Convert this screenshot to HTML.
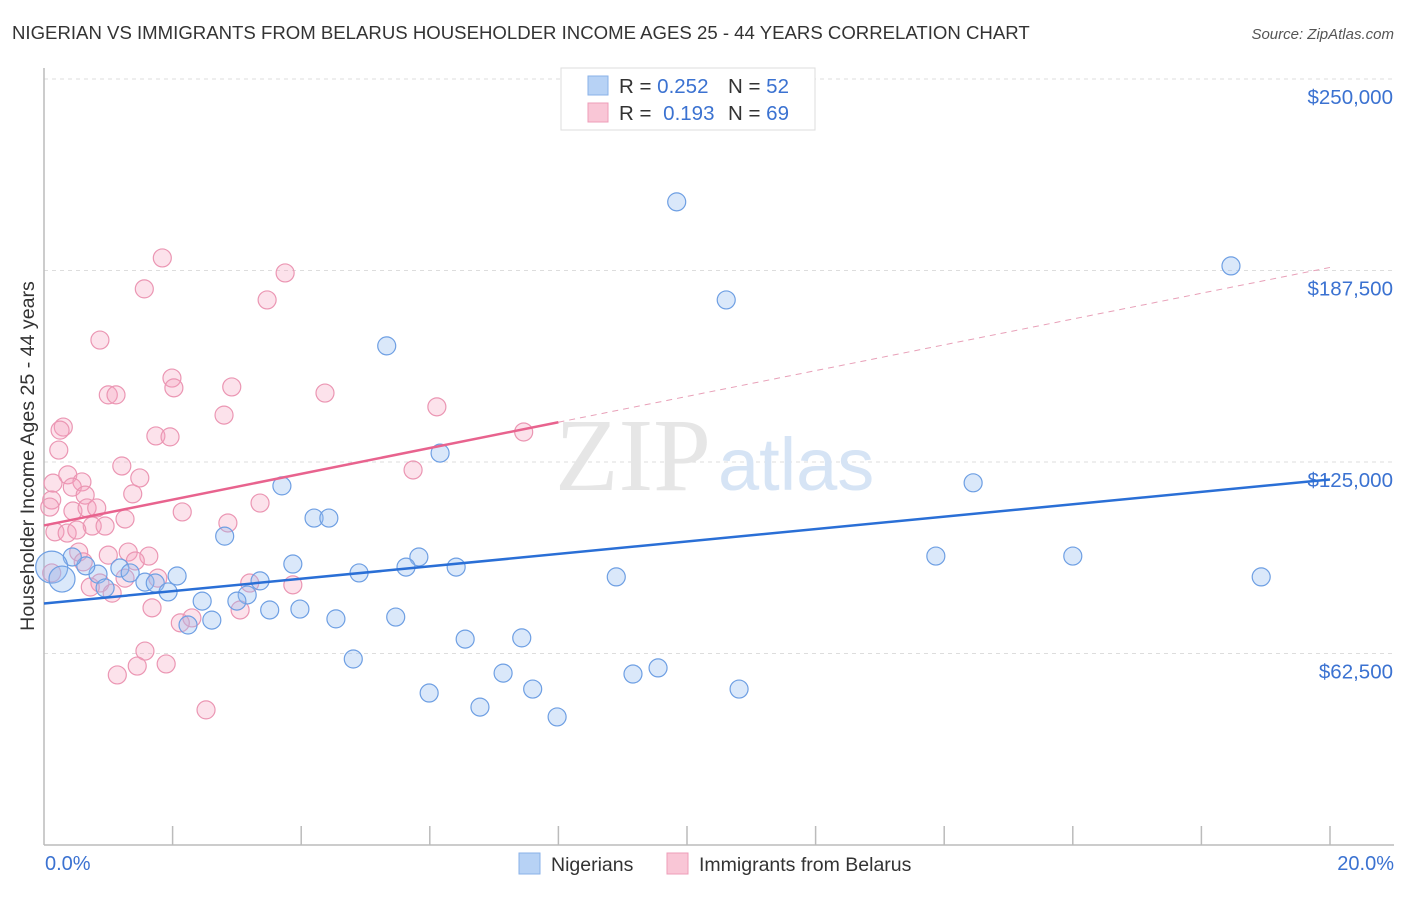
<!DOCTYPE html>
<html><head><meta charset="utf-8"><style>
body{margin:0;background:#fff;font-family:"Liberation Sans",sans-serif}
svg text{font-family:"Liberation Sans",sans-serif}
</style></head><body>
<svg id="c" width="1406" height="892" xmlns="http://www.w3.org/2000/svg">
<text x="12" y="39" font-size="18.6" fill="#333">NIGERIAN VS IMMIGRANTS FROM BELARUS HOUSEHOLDER INCOME AGES 25 - 44 YEARS CORRELATION CHART</text>
<text x="1394" y="39" font-size="15" fill="#555" text-anchor="end" font-style="italic">Source: ZipAtlas.com</text>
<text x="34" y="456" font-size="19.6" fill="#333" text-anchor="middle" transform="rotate(-90 34 456)" dy="0">Householder Income Ages 25 - 44 years</text>
<g id="grid"></g>
<text x="555" y="490" font-size="104" fill="#e6e6e6" style="font-family:'Liberation Serif',serif">ZIP</text>
<text x="718" y="490" font-size="74" fill="#d6e4f5">atlas</text>
<g id="marks"></g>
<g id="lines"></g>
<g>
<rect x="561" y="68" width="254" height="62" fill="#fff" stroke="#ddd"/>
<rect x="588" y="76" width="20" height="19" fill="#b7d2f5" stroke="#8ab2e8"/>
<rect x="588" y="103" width="20" height="19" fill="#f9c6d6" stroke="#ee9db8"/>
<text x="619" y="93" font-size="20.5" fill="#333">R = <tspan fill="#3b72d1">0.252</tspan></text>
<text x="728" y="93" font-size="20.5" fill="#333">N = <tspan fill="#3b72d1">52</tspan></text>
<text x="619" y="120" font-size="20.5" fill="#333">R = <tspan fill="#3b72d1" dx="6">0.193</tspan></text>
<text x="728" y="120" font-size="20.5" fill="#333">N = <tspan fill="#3b72d1">69</tspan></text>
</g>
<g>
<rect x="519" y="853" width="21" height="21" fill="#b7d2f5" stroke="#8ab2e8"/>
<text x="551" y="871" font-size="19.5" fill="#333">Nigerians</text>
<text x="699" y="871" font-size="19.5" fill="#333">Immigrants from Belarus</text>
<rect x="667" y="853" width="21" height="21" fill="#f9c6d6" stroke="#ee9db8"/>
</g>
</svg>
<script>
const yTicks=[62500,125000,187500,250000];
const yTickLabels=["$62,500","$125,000","$187,500","$250,000"];
const xTickLabels=["0.0%","20.0%"];
const blueX=[9.84,18.46,10.61,5.33,6.16,3.70,14.45,4.20,4.43,2.81,13.87,16.00,3.87,5.83,5.63,6.41,4.90,8.90,18.93,2.07,0.84,1.18,1.34,0.65,0.44,1.57,1.73,0.95,1.93,3.36,3.16,2.46,3.00,3.51,3.98,4.54,5.47,2.61,2.24,6.55,7.43,4.81,9.55,9.16,7.14,7.60,10.81,5.99,6.78,7.98,0.12,0.28];
const blueY=[209.9,189.0,177.9,162.9,127.9,117.2,118.2,106.7,106.7,100.8,94.3,94.3,91.7,94.0,90.7,90.7,88.8,87.5,87.5,87.8,88.4,90.4,88.8,91.1,94.0,85.8,85.5,83.9,82.6,86.2,81.6,79.6,79.6,76.7,77.0,73.8,74.4,73.4,71.8,67.2,67.6,60.7,57.8,55.8,56.1,50.9,50.9,49.6,45.0,41.8,90.7,86.8];
const blueR=[9,9,9,9,9,9,9,9,9,9,9,9,9,9,9,9,9,9,9,9,9,9,9,9,9,9,9,9,9,9,9,9,9,9,9,9,9,9,9,9,9,9,9,9,9,9,9,9,9,9,16,13];
const pinkX=[1.84,3.75,1.56,3.47,0.87,1.99,2.02,2.92,1.00,1.12,4.37,2.80,6.11,0.30,0.25,1.74,1.96,7.46,0.23,5.74,1.21,0.37,0.59,0.14,0.44,1.49,0.64,1.38,0.12,0.09,0.45,0.67,0.82,2.15,1.26,3.36,2.86,0.75,0.95,0.17,0.36,0.51,0.54,1.00,1.31,1.63,1.42,0.61,0.12,1.26,1.77,0.87,3.20,3.87,0.72,1.06,1.68,3.05,2.30,2.12,1.57,1.90,1.45,1.14,2.52];
const pinkY=[191.6,186.7,181.5,177.9,164.8,152.4,149.2,149.5,146.9,146.9,147.5,140.3,143.0,136.4,135.4,133.5,133.2,134.8,128.9,122.4,123.7,120.8,118.5,118.1,116.8,119.8,114.2,114.6,112.6,110.3,109.0,110.0,110.0,108.7,106.4,111.6,105.1,104.1,104.1,102.2,101.8,102.8,95.6,94.6,95.6,94.3,92.7,92.4,88.8,87.1,87.1,85.5,85.5,84.9,84.2,82.2,77.4,76.7,74.1,72.5,63.3,59.1,58.4,55.5,44.1];
const blueFit=[78.8,119.3];
const pinkFit=[104.3,188.5];
const NS="http://www.w3.org/2000/svg";
const X0=44,X1=1330,YB=845,PPK=1/0.32637;
function sx(p){return X0+(X1-X0)*p/20;}
function sy(k){return YB-k*PPK;}
function mk(t,a,p){const e=document.createElementNS(NS,t);for(const k in a)e.setAttribute(k,a[k]);p.appendChild(e);return e;}
const grid=document.getElementById('grid'),marks=document.getElementById('marks'),lines=document.getElementById('lines');
yTicks.forEach((v,i)=>{
 const y=sy(v/1000);
 const l=mk('line',{x1:X0,x2:1394,y1:y,y2:y,stroke:'#ddd','stroke-dasharray':'4 4'},grid);
 
 
 const t=mk('text',{x:1393,y:y+25,'font-size':20.5,fill:'#3b72d1','text-anchor':'end'},grid);
 t.textContent=yTickLabels[i];
 
 
});
const ax=mk('line',{x1:X0,x2:1394,y1:YB,y2:YB,stroke:'#bbb','stroke-width':1.5},grid);


const ay=mk('line',{x1:X0,x2:X0,y1:68,y2:YB,stroke:'#bbb','stroke-width':1.5},grid);


for(let i=1;i<=10;i++){const x=sx(i*2);const t=mk('line',{x1:x,x2:x,y1:826,y2:YB,stroke:'#bbb','stroke-width':1.5},grid);
 
 }
[[0,'start',45],[20,'end',1394]].forEach((d,i)=>{const t=mk('text',{x:d[2],y:870,'font-size':20,fill:'#3b72d1','text-anchor':d[1]},grid);t.textContent=xTickLabels[i];
 
 });
pinkX.forEach((x,i)=>{const c=mk('circle',{cx:sx(x),cy:sy(pinkY[i]),r:9,fill:'rgba(244,160,190,0.3)',stroke:'#eb96b3','stroke-width':1.2},marks);
 
 });
blueX.forEach((x,i)=>{const c=mk('circle',{cx:sx(x),cy:sy(blueY[i]),r:blueR[i],fill:'rgba(150,190,240,0.35)',stroke:'#6e9fe3','stroke-width':1.2},marks);
 
 });
function fy(f,x){return f[0]+(f[1]-f[0])*x/20;}
const bl=mk('line',{x1:sx(0),y1:sy(fy(blueFit,0)),x2:sx(20),y2:sy(fy(blueFit,20)),stroke:'#2a6fd6','stroke-width':2.5},lines);


const pl=mk('line',{x1:sx(0),y1:sy(fy(pinkFit,0)),x2:sx(8),y2:sy(fy(pinkFit,8)),stroke:'#e8638e','stroke-width':2.5},lines);


const pd=mk('line',{x1:sx(8),y1:sy(fy(pinkFit,8)),x2:sx(20),y2:sy(fy(pinkFit,20)),stroke:'#e8a0b8','stroke-width':1,'stroke-dasharray':'6 5'},lines);


</script>
</body></html>
